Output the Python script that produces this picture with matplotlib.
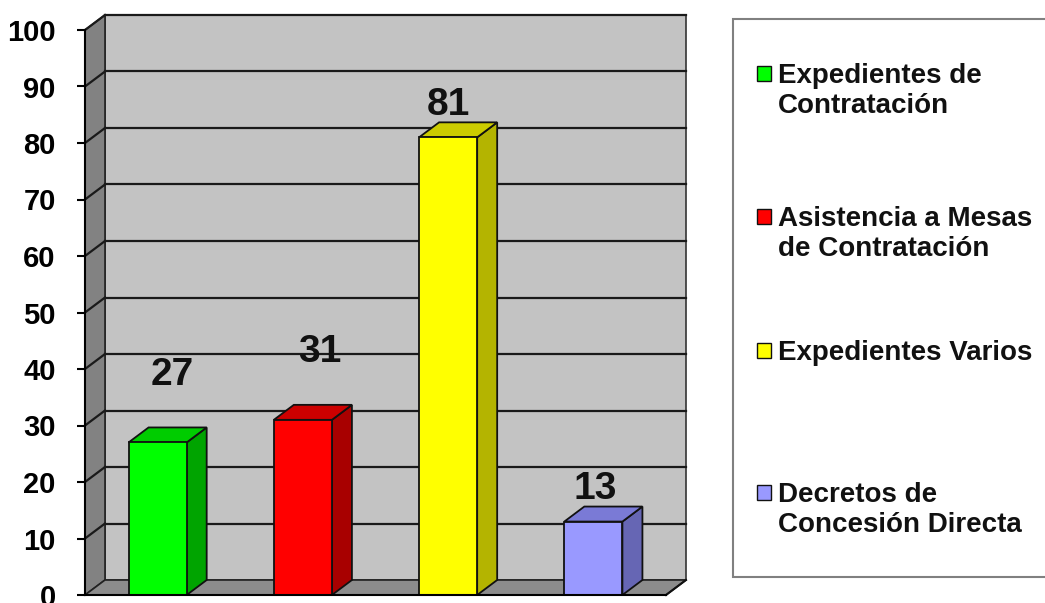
import numpy as np
import matplotlib
matplotlib.use("Agg")
import matplotlib.pyplot as plt
from matplotlib.patches import Polygon, Rectangle

plt.rcParams['font.family'] = ['Liberation Sans', 'DejaVu Sans']
plt.rcParams['font.weight'] = 'bold'

# data
categories = ["Expedientes de\nContratación",
              "Asistencia a Mesas\nde Contratación",
              "Expedientes Varios",
              "Decretos de\nConcesión Directa"]
values = [27, 31, 81, 13]
y_ticks = list(range(0, 101, 10))

# colours: front, side, top
front_cols = ["#00FF00", "#FF0000", "#FFFF00", "#9999FF"]
side_cols = ["#00A400", "#A80000", "#B4B400", "#6666B4"]
top_cols = ["#00CC00", "#CC0000", "#CCCC00", "#7A7AD6"]

# label placement (offset above bar top, x shift) in data units
label_dy = [12, 12, 5.8, 5.8]
label_dx = [0.1, 0.12, 0.0, 0.01]

W, H = 1045, 603
fig = plt.figure(figsize=(W / 100, H / 100), dpi=100)

# front plane of the plot in pixels
x0, x1, y0, y1 = 85, 666, 595, 30
ax = fig.add_axes([x0 / W, (H - y0) / H, (x1 - x0) / W, (y0 - y1) / H])
ax.set_xlim(0, 4)
ax.set_ylim(0, 100)
ax.patch.set_visible(False)

# depth offsets in data units (20 px right, 15 px up)
dx = 20 / ((x1 - x0) / 4)
dy = 15 / ((y0 - y1) / 100)

# back wall, side wall, floor
ax.add_patch(Polygon([(dx, dy), (4 + dx, dy), (4 + dx, 100 + dy), (dx, 100 + dy)],
                     closed=True, fc="#C3C3C3", ec="#333333", lw=1.2, clip_on=False, zorder=0))
ax.add_patch(Polygon([(0, 0), (dx, dy), (dx, 100 + dy), (0, 100)],
                     closed=True, fc="#828282", ec="#222222", lw=1.2, clip_on=False, zorder=0))
ax.add_patch(Polygon([(0, 0), (4, 0), (4 + dx, dy), (dx, dy)],
                     closed=True, fc="#8C8C8C", ec="#222222", lw=1.2, clip_on=False, zorder=1))

# gridlines on back wall and side wall
for v in y_ticks[1:]:
    ax.plot([dx, 4 + dx], [v + dy, v + dy], color="#1a1a1a", lw=1.6, zorder=1, clip_on=False)
    ax.plot([0, dx], [v, v + dy], color="#1a1a1a", lw=1.6, zorder=1, clip_on=False)

# bars
bw = 0.4
for i, v in enumerate(values):
    c = i + 0.5
    xl, xr = c - bw / 2, c + bw / 2
    ax.add_patch(Polygon([(xr, 0), (xr + dx, dy), (xr + dx, v + dy), (xr, v)],
                         closed=True, fc=side_cols[i], ec="#111111", lw=1.3, zorder=3, clip_on=False))
    ax.add_patch(Polygon([(xl, v), (xr, v), (xr + dx, v + dy), (xl + dx, v + dy)],
                         closed=True, fc=top_cols[i], ec="#111111", lw=1.3, zorder=3, clip_on=False))
    ax.add_patch(Rectangle((xl, 0), bw, v, fc=front_cols[i], ec="#111111", lw=1.3,
                           zorder=4, clip_on=False))
    ax.text(c + label_dx[i], v + label_dy[i], str(v), ha="center", va="center",
            fontsize=28, fontweight="bold", color="#111111", zorder=5)

# axes lines and ticks
for s in ["top", "right"]:
    ax.spines[s].set_visible(False)
ax.spines["left"].set_linewidth(1.5)
ax.spines["bottom"].set_linewidth(1.5)
ax.spines["left"].set_zorder(6)
ax.spines["bottom"].set_zorder(6)
ax.plot([4, 4 + dx], [0, dy], color="#111111", lw=1.5, clip_on=False, zorder=6)
ax.set_yticks(y_ticks)
ax.set_xticks([])
ax.tick_params(axis="y", length=6, width=1.5, pad=15, labelsize=21)
for lab in ax.get_yticklabels():
    lab.set_fontweight("bold")

# legend box drawn in figure pixels
fig.patches.append(Rectangle((733 / W, (H - 577) / H), (W + 10 - 733) / W, (577 - 19) / H,
                             transform=fig.transFigure, fc="white", ec="#808080", lw=1.5))
leg_y = [73, 216, 350, 492]
for i, name in enumerate(categories):
    yy = (H - leg_y[i]) / H
    fig.patches.append(Rectangle((757 / W, yy - 7.5 / H), 14 / W, 15 / H,
                                 transform=fig.transFigure, fc=front_cols[i], ec="#111111", lw=1.0))
    for j, line in enumerate(name.split("\n")):
        fig.text(778 / W, yy - 30 * j / H, line, ha="left", va="center_baseline", fontsize=20,
                 fontweight="bold", color="#111111")

fig.savefig("out.png", dpi=100)
